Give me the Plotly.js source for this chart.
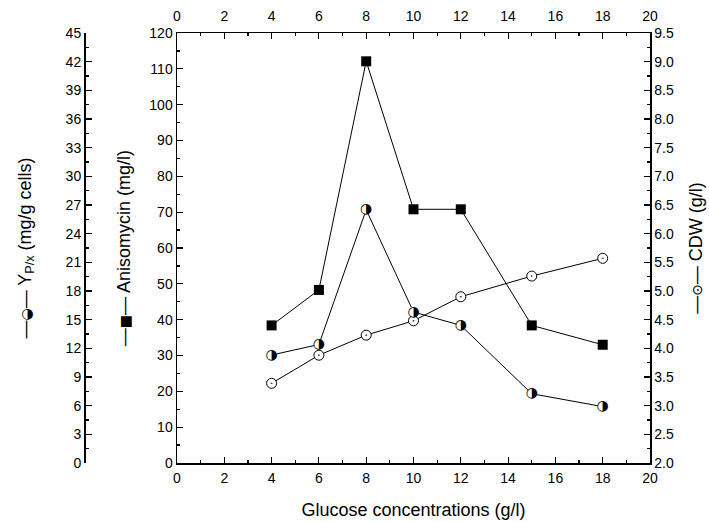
<!DOCTYPE html>
<html>
<head>
<meta charset="utf-8">
<script src="https://cdn.plot.ly/plotly-3.0.1.min.js"></script>
<style>html,body{margin:0;padding:0;background:#fff;}#chart{width:709px;height:522px;}</style>
</head>
<body>
<div id="chart"></div>
<script>
// Data
var glucose = [4, 6, 8, 10, 12, 15, 18];
var anisomycin = [38.4, 48.3, 112.1, 70.8, 70.8, 38.4, 33.0];
var ypx = [11.3, 12.4, 26.5, 15.8, 14.4, 7.25, 5.9];
var cdw = [3.39, 3.88, 4.23, 4.48, 4.90, 5.26, 5.57];

var W = 709, H = 522;
var xL = 177, xR = 650, yT = 33, yB = 463;
var fam = '"Liberation Sans", Arial, sans-serif';
var tickFont = {family: fam, size: 14, color: '#000'};
var titleFont = {family: fam, size: 18, color: '#000'};

var half = glucose.map(function(){ return '\u25D1'; });

var traces = [
  {x: glucose, y: anisomycin, xaxis: 'x', yaxis: 'y', mode: 'lines+markers',
   line: {color: '#000', width: 1},
   marker: {symbol: 'square', size: 10, color: '#000'}, hoverinfo: 'x+y'},
  {x: glucose, y: cdw, xaxis: 'x', yaxis: 'y2', mode: 'lines+markers',
   line: {color: '#000', width: 1},
   marker: {symbol: 'circle-dot', size: 10, color: '#fff', line: {color: '#000', width: 1}}},
  {x: glucose, y: ypx, xaxis: 'x', yaxis: 'y3', mode: 'lines+markers+text',
   line: {color: '#000', width: 1},
   marker: {symbol: 'circle', size: 10, color: '#fff', line: {width: 0}},
   text: half, textposition: 'middle center',
   textfont: {family: '"DejaVu Sans", sans-serif', size: 14, color: '#000'}},
  {x: [0, 20], y: [0, 0], xaxis: 'x2', yaxis: 'y', mode: 'markers',
   marker: {opacity: 0}, hoverinfo: 'skip'}
];

var common = {
  showline: true, linecolor: '#000', linewidth: 1.5,
  ticks: 'inside', ticklen: 6, tickwidth: 1.2, tickcolor: '#000',
  showgrid: false, zeroline: false, tickfont: tickFont, fixedrange: true
};
function ax(o){ var r = {}; for (var k in common) r[k] = common[k]; for (var k2 in o) r[k2] = o[k2]; return r; }
var minorT = function(d){ return {dtick: d, ticklen: 3, ticks: 'inside', tickcolor: '#000', tickwidth: 1.2}; };

var xd = [xL / W, xR / W];
var yd = [1 - yB / H, 1 - yT / H];
var sym = function(c){ return '<span style="font-family:\'DejaVu Sans\';font-size:14px">' + c + '</span>'; };

var layout = {
  width: W, height: H,
  margin: {l: 0, r: 0, t: 0, b: 0},
  paper_bgcolor: '#fff', plot_bgcolor: '#fff',
  showlegend: false,
  xaxis: ax({domain: xd, range: [0, 20], dtick: 2, tick0: 0, anchor: 'y',
    minor: minorT(1), ticklabelstandoff: 2,
    title: {text: 'Glucose concentrations (g/l)', font: titleFont, standoff: 18}}),
  xaxis2: ax({domain: xd, range: [0, 20], dtick: 2, tick0: 0, overlaying: 'x', side: 'top', anchor: 'y',
    minor: minorT(1), ticklabelstandoff: 5}),
  yaxis: ax({domain: yd, range: [0, 120], dtick: 10, tick0: 0, anchor: 'x',
    minor: minorT(5),
    title: {text: '\u2014' + sym('\u25A0') + '\u2014 Anisomycin (mg/l)', font: titleFont, standoff: 14}}),
  yaxis2: ax({domain: yd, range: [2, 9.5], dtick: 0.5, tick0: 2, tickformat: '.1f',
    overlaying: 'y', side: 'right', anchor: 'x',
    minor: minorT(0.25),
    title: {text: '\u2014' + sym('\u2299') + '\u2014 CDW (g/l)', font: titleFont, standoff: 16}}),
  yaxis3: ax({domain: yd, range: [0, 45], dtick: 3, tick0: 0,
    overlaying: 'y', side: 'left', anchor: 'free', position: 84 / W,
    minor: minorT(1.5),
    title: {text: '\u2014' + sym('\u25D2') + '\u2014 Y<sub>P/x</sub> (mg/g cells)', font: titleFont, standoff: 28}})
};

Plotly.newPlot('chart', traces, layout, {displayModeBar: false, staticPlot: true});
</script>
</body>
</html>
